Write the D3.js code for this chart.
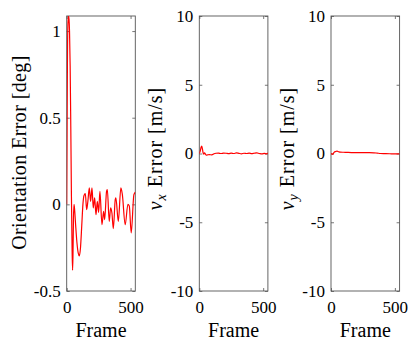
<!DOCTYPE html>
<html>
<head>
<meta charset="utf-8">
<script src="https://cdn.jsdelivr.net/npm/d3@7"></script>
<style>
  body { margin: 0; background: #fff; }
</style>
</head>
<body>
<div class="svg"></div>
<script>
const width = 415
const height = 358
const serif = '"Liberation Serif", serif'

// Data
const oriFrames = [0, 3, 6, 10, 14, 18, 22, 27, 32, 37, 42, 46, 49, 53, 57, 62, 70, 80, 90, 99, 108, 118, 127, 135, 146, 156, 166, 177, 187, 198, 208, 219, 229, 240, 250, 260, 276, 289, 297, 312, 318, 333, 344, 354, 365, 380, 385, 404, 424, 435, 458, 479, 490, 505, 526, 537]
const oriErr = [0, 0.45, 0.85, 1.05, 1.087, 1.07, 1.0, 0.8, 0.45, 0.05, -0.25, -0.38, -0.3, -0.08, 0.0, -0.03, -0.12, -0.22, -0.28, -0.297, -0.25, -0.12, 0.0, 0.05, 0.062, -0.03, 0.02, 0.095, 0.017, 0.095, -0.02, 0.037, -0.06, 0.017, -0.046, 0.075, -0.117, -0.04, -0.088, 0.075, 0.085, -0.098, -0.02, -0.05, -0.14, 0.027, 0.037, -0.098, 0.095, 0.06, -0.117, 0, -0.01, -0.165, 0.056, 0.07]

const vxFrames = [0, 8, 14, 19, 24, 30, 35, 41, 48, 55, 65, 78, 98, 115, 130, 150, 170, 190, 210, 230, 250, 270, 290, 310, 330, 350, 370, 390, 410, 430, 450, 470, 490, 510, 525, 537]
const vxErr = [0, 0.2, 0.45, 0.53, 0.35, 0.05, -0.05, 0.05, -0.05, -0.12, -0.1, -0.08, -0.1, -0.02, 0.02, 0.03, 0.0, 0.03, 0.02, -0.01, 0.03, 0.0, 0.04, 0.01, -0.02, 0.02, 0.0, 0.03, -0.01, 0.02, 0.04, 0.0, -0.03, 0.01, -0.02, 0.03]

const vyFrames = [0, 6, 13, 20, 26, 35, 47, 60, 73, 100, 126, 160, 200, 231, 280, 336, 360, 388, 420, 460, 500, 537]
const vyErr = [0, -0.03, -0.06, 0.03, 0.1, 0.14, 0.17, 0.13, 0.1, 0.09, 0.08, 0.07, 0.07, 0.07, 0.06, 0.05, 0.03, 0.0, -0.01, -0.02, -0.03, -0.03]

const xTicks = [0, 500]
const oriTicks = [-0.5, 0, 0.5, 1]
const velTicks = [-10, -5, 0, 5, 10]

const panels = [
  { frames: oriFrames, values: oriErr, ydomain: [-0.5, 1.087], yticks: oriTicks, label: 'Orientation Error [deg]', sub: null },
  { frames: vxFrames, values: vxErr, ydomain: [-10, 10], yticks: velTicks, label: 'Error [m/s]', sub: 'x' },
  { frames: vyFrames, values: vyErr, ydomain: [-10, 10], yticks: velTicks, label: 'Error [m/s]', sub: 'y' }
]

const lefts = [66.7, 199.3, 331]
const pw = 68.6
const ptop = 16
const pbottom = 291

const svg = d3
  .select('.svg')
  .append('svg')
  .attr('width', width)
  .attr('height', height)

const fmt = d => String(d)

panels.forEach((p, i) => {
  const left = lefts[i]
  const xScale = d3.scaleLinear().domain([0, 537]).range([left, left + pw])
  const yScale = d3.scaleLinear().domain(p.ydomain).range([pbottom, ptop])

  const g = svg.append('g')

  g.append('clipPath')
    .attr('id', 'clip' + i)
    .append('rect')
    .attr('x', left)
    .attr('y', ptop)
    .attr('width', pw)
    .attr('height', pbottom - ptop)

  // tick marks on all four sides, pointing inward
  const axes = [
    [d3.axisLeft(yScale).tickValues(p.yticks).tickSize(-3).tickPadding(6).tickFormat(fmt), 'translate(' + left + ',0)'],
    [d3.axisRight(yScale).tickValues(p.yticks).tickSize(-3).tickFormat(''), 'translate(' + (left + pw) + ',0)'],
    [d3.axisBottom(xScale).tickValues(xTicks).tickSize(-3).tickPadding(10).tickFormat(fmt), 'translate(0,' + pbottom + ')'],
    [d3.axisTop(xScale).tickValues(xTicks).tickSize(-3).tickFormat(''), 'translate(0,' + ptop + ')']
  ]
  axes.forEach(([axis, tr]) => {
    const a = g.append('g').attr('transform', tr).call(axis)
    a.attr('font-family', serif).attr('font-size', 17)
    a.select('.domain').remove()
    a.selectAll('line').attr('stroke', '#555').attr('stroke-width', 0.8)
    a.selectAll('text').attr('fill', '#000')
  })

  g.append('rect')
    .attr('x', left)
    .attr('y', ptop)
    .attr('width', pw)
    .attr('height', pbottom - ptop)
    .attr('fill', 'none')
    .attr('stroke', '#555')
    .attr('stroke-width', 0.9)

  const line = d3
    .line()
    .x((d, k) => xScale(p.frames[k]))
    .y(d => yScale(d))
    .curve(d3.curveMonotoneX)

  g.append('path')
    .datum(p.values)
    .attr('clip-path', 'url(#clip' + i + ')')
    .attr('d', line)
    .attr('fill', 'none')
    .attr('stroke', '#ff0000')
    .attr('stroke-width', 1.2)

  // axis titles
  g.append('text')
    .attr('x', left + pw / 2)
    .attr('y', 337)
    .attr('text-anchor', 'middle')
    .attr('font-family', serif)
    .attr('font-size', 20)
    .text('Frame')

  const yl = g.append('text')
    .attr('transform', 'translate(' + (i === 0 ? 25.5 : left - 37) + ',' + (i === 0 ? 152.5 : 148.5) + ') rotate(-90)')
    .attr('text-anchor', 'middle')
    .attr('font-family', serif)
    .attr('font-size', 20)

  if (p.sub) {
    yl.attr('letter-spacing', 1)
    yl.append('tspan').attr('font-style', 'italic').text('v')
    yl.append('tspan').attr('dy', 4).attr('font-size', 14).attr('font-style', 'italic').text(p.sub)
    yl.append('tspan').attr('dy', -4).text(' ' + p.label)
  } else {
    yl.text(p.label).attr('letter-spacing', 0.4)
  }
})
</script>
</body>
</html>
